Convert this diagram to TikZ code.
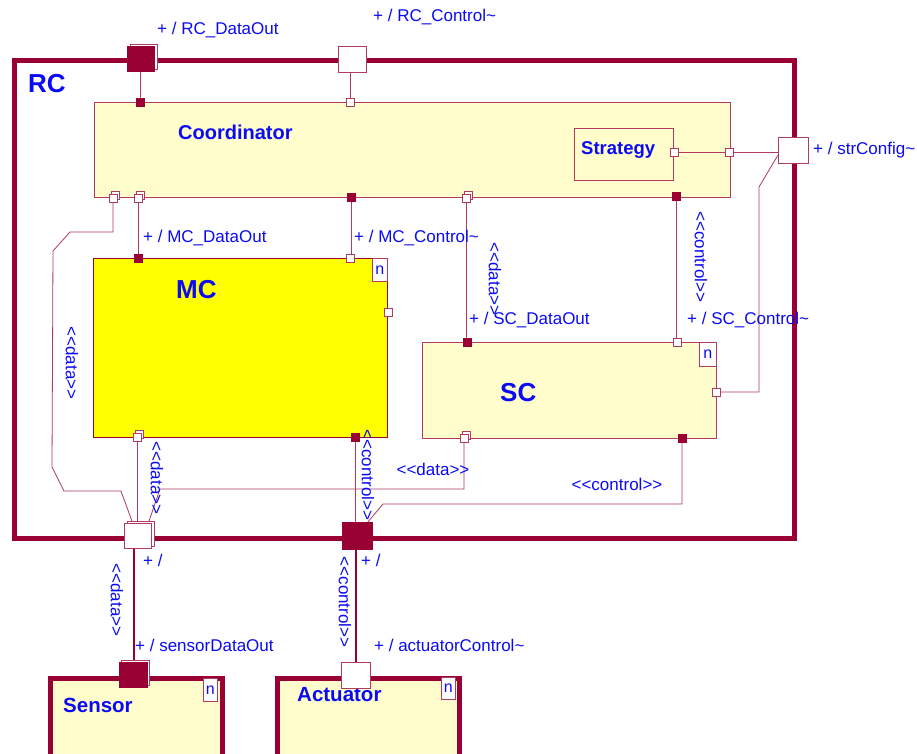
\documentclass[tikz,border=0pt]{standalone}
\usepackage{fontspec}
\setmainfont{Liberation Sans}
\usetikzlibrary{shadows}
\definecolor{dred}{HTML}{990033}
\definecolor{lred}{HTML}{B03A62}
\definecolor{lyel}{HTML}{FFFDCC}
\definecolor{myel}{HTML}{FFFF00}
\definecolor{tblue}{HTML}{0A0AF5}
\pgfdeclarelayer{bgl}
\pgfdeclarelayer{boxes}
\pgfdeclarelayer{lines}
\pgfsetlayers{bgl,boxes,lines,main}
\begin{document}
\begin{tikzpicture}[x=1pt,y=-1pt,
  lbl/.style={text=tblue, font=\fontsize{17}{20}\selectfont, inner sep=0pt},
  vlbl/.style={lbl, rotate=-90},
  ttl/.style={text=tblue, font=\bfseries\fontsize{20}{24}\selectfont, inner sep=0pt, anchor=west},
  box/.style={rectangle, draw=lred, fill=lyel, line width=0.9pt, inner sep=0pt, anchor=north west},
  thickbox/.style={rectangle, draw=dred, fill=lyel, line width=5pt, inner sep=0pt, anchor=north west},
  nbox/.style={rectangle, draw=lred, fill=white, line width=0.8pt, inner sep=0pt, anchor=north west, text=tblue, font=\fontsize{16}{18}\selectfont},
  pf/.style={rectangle, fill=dred, draw=dred, minimum size=8pt, inner sep=0pt, line width=0.6pt},
  po/.style={rectangle, fill=white, draw=lred, minimum size=8pt, inner sep=0pt, line width=0.8pt},
  psh/.style={general shadow={shadow xshift=2.5pt, shadow yshift=2.5pt, fill=white, draw=lred, line width=0.8pt}},
  conn/.style={draw=lred, line width=0.8pt},
  tconn/.style={draw=dred, line width=2.6pt},
  bigf/.style={rectangle, fill=dred, draw=dred, minimum width=27pt, minimum height=25pt, inner sep=0pt, line width=0.6pt},
  bigo/.style={rectangle, fill=white, draw=lred, minimum width=28pt, minimum height=26pt, inner sep=0pt, line width=0.8pt}
]
\clip (0,0) rectangle (917,753);
\begin{pgfonlayer}{bgl}
\fill[white] (0,0) rectangle (917,753);
\end{pgfonlayer}

\begin{pgfonlayer}{boxes}
% RC outer
\node[rectangle, draw=dred, line width=5pt, inner sep=0pt, anchor=north west,
      minimum width=780pt, minimum height=478pt] (rc) at (12,58) {};
\node[box, minimum width=636pt, minimum height=95pt] (coord) at (94,102) {};
\node[box, minimum width=99pt, minimum height=52pt] (strat) at (574,128) {};
\node[box, fill=myel, draw=dred, minimum width=294pt, minimum height=179pt] (mc) at (93,258) {};
\node[box, minimum width=294pt, minimum height=96pt] (sc) at (422,342) {};
\node[thickbox, minimum width=172pt, minimum height=100pt] (sensor) at (48,676) {};
\node[thickbox, minimum width=182pt, minimum height=100pt] (act) at (275,676) {};
\node[nbox, minimum width=15pt, minimum height=23pt] (mcn) at (372,258) {n};
\node[nbox, minimum width=17pt, minimum height=24pt] (scn) at (699,342) {n};
\node[nbox, minimum width=14pt, minimum height=23pt] (sen) at (203,678) {n};
\node[nbox, minimum width=14pt, minimum height=22pt] (acn) at (441,677) {n};
\end{pgfonlayer}

% titles
\node[ttl, font=\bfseries\fontsize{26}{30}\selectfont] (rct) at (28,84) {RC};
\node[ttl] (coordt) at (178,132) {Coordinator};
\node[ttl, font=\bfseries\fontsize{18.5}{22}\selectfont] (stratt) at (581,150) {Strategy};
\node[ttl, font=\bfseries\fontsize{26}{30}\selectfont] (mct) at (176,290) {MC};
\node[ttl, font=\bfseries\fontsize{26}{30}\selectfont] (sct) at (500,393) {SC};
\node[ttl, font=\bfseries\fontsize{20.5}{24}\selectfont] (sent) at (63,705) {Sensor};
\node[ttl, font=\bfseries\fontsize{20.5}{24}\selectfont] (actt) at (297,695) {Actuator};

% RC border ports
\node[bigf, psh] (rcD) at (141,59) {};
\node[bigo] (rcC) at (352,59) {};
\node[bigo, minimum width=30pt] (rcS) at (793,150) {};
\node[bigo, psh, minimum width=27pt, minimum height=25pt] (rcBd) at (138,536) {};
\node[bigf, minimum width=30pt, minimum height=27pt] (rcBc) at (357,536) {};
% Sensor / Actuator ports
\node[bigf, psh, minimum width=28pt] (snD) at (133,675) {};
\node[bigo, minimum width=29pt] (acC) at (356,675) {};

% Coordinator ports
\node[pf] (cTD) at (140,102) {};
\node[po] (cTC) at (350,102) {};
\node[po, psh] (cBx) at (113,198) {};
\node[po, psh] (cBd) at (138,198) {};
\node[pf] (cBc) at (351,197) {};
\node[po, psh] (cBsd) at (466,198) {};
\node[pf] (cBsc) at (676,196) {};
\node[po] (cR) at (729,152) {};
\node[po] (stR) at (674,152) {};
% MC ports
\node[pf] (mTD) at (138,258) {};
\node[po] (mTC) at (350,258) {};
\node[po] (mR) at (388,312) {};
\node[po, psh] (mBd) at (137,437) {};
\node[pf] (mBc) at (355,437) {};
% SC ports
\node[pf] (sTD) at (467,342) {};
\node[po] (sTC) at (677,342) {};
\node[po] (sR) at (716,392) {};
\node[po, psh] (sBd) at (464,438) {};
\node[pf] (sBc) at (682,438) {};

\coordinate (rcBdIn1) at (133,524);
\coordinate (rcBdIn2) at (148,524);
\coordinate (rcBcIn) at (367,523);
\coordinate (rcSIn) at (778,155);

\begin{pgfonlayer}{lines}
\draw[conn] (cTD) -- (cTD |- rcD.south);
\draw[conn] (cTC) -- (cTC |- rcC.south);
\draw[conn] (stR) -- (cR);
\draw[conn] (cR) -- (cR -| rcS.west);
\draw[conn] (sR) -- (759,392) -- (759,187) -- (rcSIn);
\draw[conn] (cBx) -- (113,232) -- (70,232) -- (53,251) -- (52,467) -- (64,491) -- (121,491) -- (rcBdIn1);
\draw[conn] (cBd) -- (cBd |- mTD);
\draw[conn] (cBc) -- (cBc |- mTC);
\draw[conn] (cBsd) -- (cBsd |- sTD);
\draw[conn] (cBsc) -- (cBsc |- sTC);
\draw[conn] (mBd) -- (mBd |- rcBd.north);
\draw[conn] (mBc) -- (mBc |- rcBc.north);
\draw[conn] (sBd) -- (464,489) -- (160,489) -- (rcBdIn2);
\draw[conn] (sBc) -- (682,504) -- (383,504) -- (rcBcIn);
\draw[tconn] (snD.north -| rcBd.south) ++(-4,0) -- ++(0,-113);
\draw[tconn] (acC) -- (acC |- rcBc.south);
\end{pgfonlayer}

% labels
\node[lbl, anchor=west] (l1) at (157,30) {+ / RC\_DataOut};
\node[lbl, anchor=west] (l2) at (373,17) {+ / RC\_Control\textasciitilde};
\node[lbl, anchor=west] (l3) at (813,150) {+ / strConfig\textasciitilde};
\node[lbl, anchor=west] (l4) at (143,238) {+ / MC\_DataOut};
\node[lbl, anchor=west] (l5) at (354,238) {+ / MC\_Control\textasciitilde};
\node[lbl, anchor=west] (l6) at (469,320) {+ / SC\_DataOut};
\node[lbl, anchor=west] (l7) at (687,320) {+ / SC\_Control\textasciitilde};
\node[vlbl] (v1) at (72,363) {<{}<data>{}>};
\node[vlbl] (v2) at (495,279) {<{}<data>{}>};
\node[vlbl] (v3) at (701,257) {<{}<control>{}>};
\node[vlbl] (v4) at (157,478) {<{}<data>{}>};
\node[vlbl] (v5) at (368,475) {<{}<control>{}>};
\node[lbl] (h1) at (433,469) {<{}<data>{}>};
\node[lbl] (h2) at (617,484) {<{}<control>{}>};
\node[lbl, anchor=west] (p1) at (143,560) {+ /};
\node[lbl, anchor=west] (p2) at (361,560) {+ /};
\node[vlbl] (v6) at (117,600) {<{}<data>{}>};
\node[vlbl] (v7) at (345,602) {<{}<control>{}>};
\node[lbl, anchor=west] (l8) at (135,645) {+ / sensorDataOut};
\node[lbl, anchor=west] (l9) at (374,645) {+ / actuatorControl\textasciitilde};
\end{tikzpicture}
\end{document}
